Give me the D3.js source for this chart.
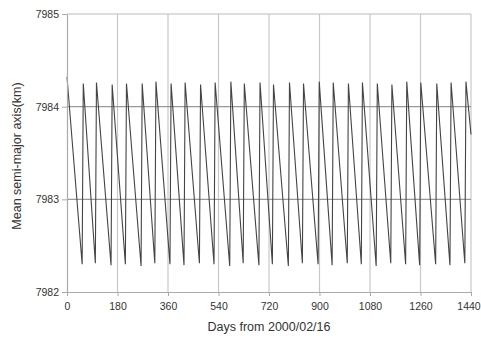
<!DOCTYPE html>
<html>
<head>
<meta charset="utf-8">
<script src="https://cdn.jsdelivr.net/npm/d3@7"></script>
<style>
  html, body { margin: 0; padding: 0; background: #fff; }
  svg { display: block; font-family: Arial, "Liberation Sans", sans-serif; }
</style>
</head>
<body>
<svg id="chart" width="481" height="340"></svg>
<script>
// ---- data ----
const xTicks = [0, 180, 360, 540, 720, 900, 1080, 1260, 1440];
const yTicks = [7982, 7983, 7984, 7985];
const xTitle = "Days from 2000/02/16";
const yTitle = "Mean semi-major axis(km)";

// turning points of the oscillation (day, km)
const days = [
  0, 54, 58, 101, 105, 157, 161, 208, 212, 264, 268, 313, 317, 367, 371,
  417, 421, 472, 476, 524, 528, 580, 584, 628, 632, 684, 688, 732, 736,
  789, 793, 839, 843, 895, 899, 945, 949, 999, 1003, 1049, 1053, 1102, 1106,
  1154, 1158, 1207, 1211, 1257, 1261, 1314, 1318, 1365, 1369, 1418, 1422, 1440
];
const values = [
  7984.32, 7982.30, 7984.25, 7982.31, 7984.26, 7982.29, 7984.24, 7982.30, 7984.25,
  7982.28, 7984.25, 7982.31, 7984.27, 7982.30, 7984.25, 7982.29, 7984.26, 7982.31,
  7984.24, 7982.30, 7984.26, 7982.28, 7984.27, 7982.31, 7984.25, 7982.29, 7984.26,
  7982.30, 7984.24, 7982.28, 7984.26, 7982.31, 7984.25, 7982.30, 7984.27, 7982.29,
  7984.26, 7982.31, 7984.25, 7982.30, 7984.26, 7982.28, 7984.25, 7982.31, 7984.24,
  7982.30, 7984.27, 7982.29, 7984.26, 7982.30, 7984.25, 7982.29, 7984.26, 7982.31,
  7984.27, 7983.70
];

// ---- layout ----
const svg = d3.select("#chart");
const margin = { left: 67, right: 10, top: 14, bottom: 48 };
const W = 481, H = 340;
const x = d3.scaleLinear().domain([0, 1440]).range([margin.left, W - margin.right]);
const y = d3.scaleLinear().domain([7982, 7985]).range([H - margin.bottom, margin.top]);

// vertical gridlines
svg.append("g").selectAll("line").data(xTicks.slice(1)).join("line")
  .attr("x1", d => x(d)).attr("x2", d => x(d))
  .attr("y1", y(7985)).attr("y2", y(7982))
  .attr("stroke", "#c8c8c8").attr("stroke-width", 1.2);

// horizontal gridlines
svg.append("g").selectAll("line").data(yTicks.slice(1)).join("line")
  .attr("x1", x(0)).attr("x2", x(1440))
  .attr("y1", d => y(d)).attr("y2", d => y(d))
  .attr("stroke", d => d === 7985 ? "#bbbbbb" : "#999999").attr("stroke-width", 1.2);

// data line
const pts = days.map((d, i) => [d, values[i]]);
svg.append("path")
  .datum(pts)
  .attr("fill", "none")
  .attr("stroke", "#444444")
  .attr("stroke-width", 1.1)
  .attr("d", d3.line().x(d => x(d[0])).y(d => y(d[1])));

// axes
const xAxis = d3.axisBottom(x).tickValues(xTicks).tickFormat(d3.format("d")).tickSize(4).tickSizeOuter(0);
const gx = svg.append("g").attr("transform", `translate(0,${y(7982)})`).call(xAxis);
gx.select(".domain").attr("stroke", "#aaaaaa").attr("stroke-width", 1.2);
gx.selectAll(".tick line").attr("stroke", "#aaaaaa");
gx.selectAll("text").attr("font-size", 10.5).attr("fill", "#333").attr("dy", "1.05em")
  .attr("font-family", "Arial, 'Liberation Sans', sans-serif")
  .attr("dx", d => d === 1440 ? -2.5 : 0);

const yAxis = d3.axisLeft(y).tickValues(yTicks).tickFormat(d3.format("d")).tickSize(5).tickSizeOuter(0);
const gy = svg.append("g").attr("transform", `translate(${x(0)},0)`).call(yAxis);
gy.select(".domain").attr("stroke", "#aaaaaa").attr("stroke-width", 1.2);
gy.selectAll(".tick line").attr("stroke", "#aaaaaa");
gy.selectAll("text").attr("font-size", 10.5).attr("fill", "#333").attr("x", -8)
  .attr("font-family", "Arial, 'Liberation Sans', sans-serif");

// titles
svg.append("text")
  .attr("x", 269).attr("y", 331)
  .attr("text-anchor", "middle")
  .attr("font-size", 12.5).attr("fill", "#333")
  .text(xTitle);

svg.append("text")
  .attr("transform", `translate(21,${156}) rotate(-90)`)
  .attr("text-anchor", "middle")
  .attr("font-size", 12.5).attr("fill", "#333")
  .text(yTitle);
</script>
</body>
</html>
